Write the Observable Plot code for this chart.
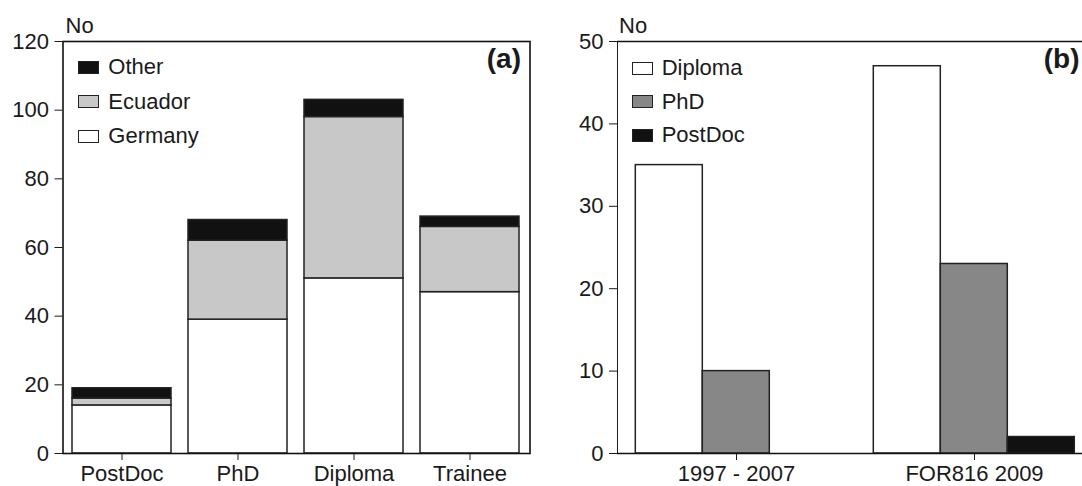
<!DOCTYPE html>
<html><head><meta charset="utf-8">
<script src="https://cdn.jsdelivr.net/npm/d3@7"></script>
<script src="https://cdn.jsdelivr.net/npm/@observablehq/plot@0.6"></script>
<style>
html,body{margin:0;padding:0;background:#fff;overflow:hidden}
#wrap{position:relative;width:1082px;height:486px;overflow:hidden;font-family:"Liberation Sans",Arial,sans-serif;color:#1a1a1a}
.panel{position:absolute;top:0}
.item{position:absolute;display:flex;align-items:center;white-space:nowrap;font-size:22px;height:24px;line-height:24px}
.sw{width:19px;height:11px;border:1.5px solid #222;margin-right:9px;box-sizing:content-box}
</style></head><body><div id="wrap"></div>
<script>
// ---- Panel (a) data ----
const levelsA = ["PostDoc","PhD","Diploma","Trainee"];
const originsA = ["Germany","Ecuador","Other"];
const germany = [14,39,51,47];
const ecuador = [2,23,47,19];
const other = [3,6,5,3];
const colorsA = ["#ffffff","#c8c8c8","#111111"];
const yTicksA = [0,20,40,60,80,100,120];

// ---- Panel (b) data ----
const periodsB = ["1997 - 2007","FOR816 2009"];
const levelsB = ["Diploma","PhD","PostDoc"];
const diploma = [35,47];
const phd = [10,23];
const postdoc = [0,2];
const colorsB = ["#ffffff","#878787","#111111"];
const yTicksB = [0,10,20,30,40,50];

const yLabel = "No";
const panelLabels = ["(a)","(b)"];

const font = '"Liberation Sans", Arial, sans-serif';
const wrap = document.getElementById("wrap");

const seriesA = [germany, ecuador, other];
const rowsA = levelsA.flatMap((lv,i)=>originsA.map((o,j)=>({level:lv, origin:o, value:seriesA[j][i]})));

const plotA = Plot.plot({
  width:560, height:486, marginLeft:62.5, marginRight:30.5, marginTop:41, marginBottom:33,
  style:{fontSize:"22px", fontFamily:font, color:"#1a1a1a", background:"transparent", overflow:"visible"},
  x:{domain:levelsA, paddingInner:0.143, paddingOuter:0.0715, tickSize:7, tickPadding:5, label:null},
  y:{domain:[0,120], ticks:yTicksA, tickSize:8, tickPadding:6, label:null},
  color:{domain:originsA, range:colorsA},
  marks:[
    Plot.barY(rowsA,{x:"level", y:"value", fill:"origin", stroke:"#222", strokeWidth:1.5}),
    Plot.frame({stroke:"#111", strokeWidth:1.6}),
    Plot.text([yLabel],{text:d=>d, frameAnchor:"top-left", textAnchor:"start", lineAnchor:"middle", dx:2.5, dy:-16, fontSize:22}),
    Plot.text([panelLabels[0]],{text:d=>d, frameAnchor:"top-right", textAnchor:"end", lineAnchor:"middle", dx:-9, dy:18, fontSize:28, fontWeight:"bold"})
  ]
});
plotA.classList.add("panel");
plotA.style.left = "0px";
wrap.appendChild(plotA);

const seriesB = [diploma, phd, postdoc];
const rowsB = periodsB.flatMap((p,i)=>levelsB.map((lv,j)=>({period:p, level:lv, value:seriesB[j][i]}))).filter(d=>d.value>0);

const plotB = Plot.plot({
  width:540, height:486, marginLeft:56.7, marginRight:7.3, marginTop:41, marginBottom:33,
  style:{fontSize:"22px", fontFamily:font, color:"#1a1a1a", background:"transparent", overflow:"visible"},
  fx:{domain:periodsB, padding:0, label:null, axis:null},
  x:{domain:levelsB, paddingInner:0, paddingOuter:0.26, axis:null},
  y:{domain:[0,50], ticks:yTicksB, tickSize:8, tickPadding:6, label:null, line:true},
  color:{domain:levelsB, range:colorsB},
  marks:[
    Plot.barY(rowsB,{fx:"period", x:"level", y:"value", fill:"level", stroke:"#222", strokeWidth:1.5}),
    Plot.ruleY([0,50],{stroke:"#111", strokeWidth:1.6}),
    Plot.axisFx({anchor:"bottom", tickSize:7, tickPadding:5, label:null}),
    Plot.text([yLabel],{text:d=>d, frameAnchor:"top-left", textAnchor:"start", lineAnchor:"middle", dx:1.6, dy:-16, fontSize:22, facetAnchor:"left"}),
    Plot.text([panelLabels[1]],{text:d=>d, frameAnchor:"top-right", textAnchor:"end", lineAnchor:"middle", dx:-14, dy:18, fontSize:28, fontWeight:"bold", facetAnchor:"right"})
  ]
});
plotB.classList.add("panel");
plotB.style.left = "560px";
wrap.appendChild(plotB);

// ---- Legends (HTML) ----
function legend(names, colors, left, firstCenter, step){
  names.forEach((n,i)=>{
    const it = document.createElement("div");
    it.className = "item";
    it.style.left = left + "px";
    it.style.top = (firstCenter + i*step - 12) + "px";
    const sw = document.createElement("span");
    sw.className = "sw";
    sw.style.background = colors[i];
    const tx = document.createElement("span");
    tx.textContent = n;
    it.appendChild(sw); it.appendChild(tx);
    wrap.appendChild(it);
  });
}
const legA = originsA.slice().reverse();
const legAColors = colorsA.slice().reverse();
legend(legA, legAColors, 78.3, 67, 34.7);
legend(levelsB, colorsB, 631.7, 68.3, 33.5);
</script></body></html>
